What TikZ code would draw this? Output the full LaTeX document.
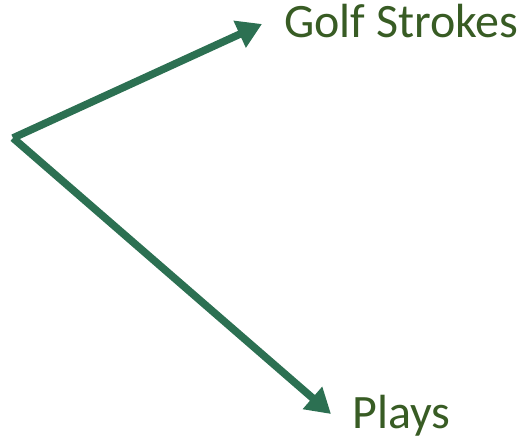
\documentclass[tikz,border=0pt]{standalone}
\usepackage{fontspec}
\setmainfont{Carlito}
\usetikzlibrary{arrows.meta}

\definecolor{arrowgreen}{RGB}{44,112,82}
\definecolor{labelgreen}{RGB}{56,92,36}

\begin{document}
\begin{tikzpicture}[x=0.02cm,y=-0.02cm,
    branch/.style={draw=arrowgreen,line width=4.3pt,
        -{Triangle[length=14pt,width=16pt]}},
    label/.style={text=labelgreen,font=\fontsize{27.3}{32}\selectfont,
        inner sep=0pt,anchor=base west}]

\useasboundingbox (0,0) rectangle (518,439);

% split point and the two outcomes
\coordinate (split) at (13,138);
\node[label] (strokes) at (284,38) {Golf Strokes};
\node[label] (plays) at (352,428) {Plays};

\coordinate (strokestip) at (262,24);
\coordinate (playstip) at (331,414);

% branches
\draw[branch] (split) -- (strokestip);
\draw[branch] (split) -- (playstip);

\end{tikzpicture}
\end{document}
